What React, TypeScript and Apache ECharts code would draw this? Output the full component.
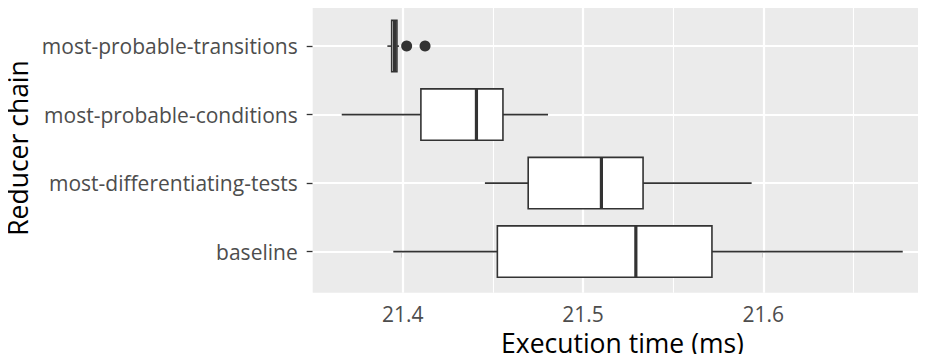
import React, { useEffect, useRef } from "react";
import * as echarts from "echarts";

// categories from bottom to top
const categories = [
  "baseline",
  "most-differentiating-tests",
  "most-probable-conditions",
  "most-probable-transitions",
];
const lowWhisker = [21.3948, 21.4456, 21.3662, 21.3915];
const q1 = [21.4525, 21.4696, 21.4101, 21.3939];
const median = [21.5293, 21.5102, 21.4409, 21.3955];
const q3 = [21.5715, 21.5333, 21.4556, 21.3968];
const highWhisker = [21.6773, 21.5935, 21.4806, 21.398];
const outliers: [number, number][] = [
  [21.4022, 3],
  [21.4124, 3],
];
const majorTicks = [21.4, 21.5, 21.6];
const minorTicks = [21.35, 21.45, 21.55, 21.65];
const catTicks = [0, 1, 2, 3];

const FONT = "Open Sans";

export default function App() {
  const ref = useRef<HTMLDivElement>(null);
  useEffect(() => {
    if (!ref.current) return;
    const chart = echarts.init(ref.current, undefined, { renderer: "svg" });
    const boxData = categories.map((_, i) => [
      i,
      lowWhisker[i],
      q1[i],
      median[i],
      q3[i],
      highWhisker[i],
    ]);
    const option: any = {
      animation: false,
      backgroundColor: "#ffffff",
      grid: {
        left: 312.7,
        right: 0,
        top: 5,
        bottom: 69.3,
        show: true,
        backgroundColor: "#EBEBEB",
        borderWidth: 0,
        containLabel: false,
        outerBoundsMode: "none",
      },
      xAxis: {
        type: "value",
        min: 21.3501,
        max: 21.6902,
        axisLine: { show: false },
        axisTick: {
          show: true,
          length: 6,
          lineStyle: { color: "#333333", width: 1.3 },
          customValues: majorTicks,
        },
        axisLabel: {
          customValues: majorTicks,
          color: "#4D4D4D",
          fontFamily: FONT,
          fontSize: 21,
          margin: 10.5,
          formatter: (v: number) => v.toFixed(1),
        },
        splitLine: { show: false },
      },
      yAxis: {
        type: "value",
        min: -0.6,
        max: 3.6,
        axisLine: { show: false },
        axisTick: {
          show: true,
          length: 6,
          lineStyle: { color: "#333333", width: 1.3 },
          customValues: catTicks,
        },
        axisLabel: {
          customValues: catTicks,
          color: "#4D4D4D",
          fontFamily: FONT,
          fontSize: 21,
          margin: 15,
          formatter: (v: number) => categories[Math.round(v)] ?? "",
        },
        splitLine: { show: false },
      },
      graphic: [
        {
          type: "text",
          x: 622.5,
          y: 343,
          style: {
            text: "Execution time (ms)",
            fill: "#000000",
            font: `26.5px "${FONT}"`,
            align: "center",
            verticalAlign: "middle",
          },
        },
        {
          type: "text",
          x: 18,
          y: 148,
          rotation: Math.PI / 2,
          style: {
            text: "Reducer chain",
            fill: "#000000",
            font: `26.5px "${FONT}"`,
            align: "center",
            verticalAlign: "middle",
          },
        },
      ],
      series: [
        {
          type: "scatter",
          data: [],
          silent: true,
          z: 1,
          markLine: {
            silent: true,
            z: 1,
            symbol: "none",
            label: { show: false },
            animation: false,
            data: [
              ...minorTicks.map((v) => ({
                xAxis: v,
                lineStyle: { color: "#ffffff", width: 1.1, type: "solid" },
              })),
              ...majorTicks.map((v) => ({
                xAxis: v,
                lineStyle: { color: "#ffffff", width: 2.2, type: "solid" },
              })),
              ...catTicks.map((v) => ({
                yAxis: v,
                lineStyle: { color: "#ffffff", width: 2.2, type: "solid" },
              })),
            ],
          },
        },
        {
          type: "custom",
          z: 3,
          data: boxData,
          encode: { x: [1, 2, 3, 4, 5], y: 0 },
          renderItem: (params: any, api: any) => {
            const y = api.value(0);
            const lo = api.coord([api.value(1), y]);
            const a = api.coord([api.value(2), y]);
            const m = api.coord([api.value(3), y]);
            const b = api.coord([api.value(4), y]);
            const hi = api.coord([api.value(5), y]);
            const h = api.size([0, 0.75])[1];
            const cy = lo[1];
            const stroke = "#333333";
            return {
              type: "group",
              children: [
                {
                  type: "line",
                  shape: { x1: lo[0], y1: cy, x2: a[0], y2: cy },
                  style: { stroke, lineWidth: 1.6 },
                },
                {
                  type: "line",
                  shape: { x1: b[0], y1: cy, x2: hi[0], y2: cy },
                  style: { stroke, lineWidth: 1.6 },
                },
                {
                  type: "rect",
                  shape: { x: a[0], y: cy - h / 2, width: b[0] - a[0], height: h },
                  style: { fill: "#ffffff", stroke, lineWidth: 1.6 },
                },
                {
                  type: "line",
                  shape: { x1: m[0], y1: cy - h / 2, x2: m[0], y2: cy + h / 2 },
                  style: { stroke, lineWidth: 3.2 },
                },
              ],
            };
          },
        },
        {
          type: "scatter",
          z: 4,
          data: outliers,
          symbol: "circle",
          symbolSize: 11,
          itemStyle: { color: "#333333", opacity: 1 },
          silent: true,
        },
      ],
    };
    chart.setOption(option);
    return () => chart.dispose();
  }, []);
  return <div ref={ref} style={{ width: 926, height: 362, margin: -8 }} />;
}
